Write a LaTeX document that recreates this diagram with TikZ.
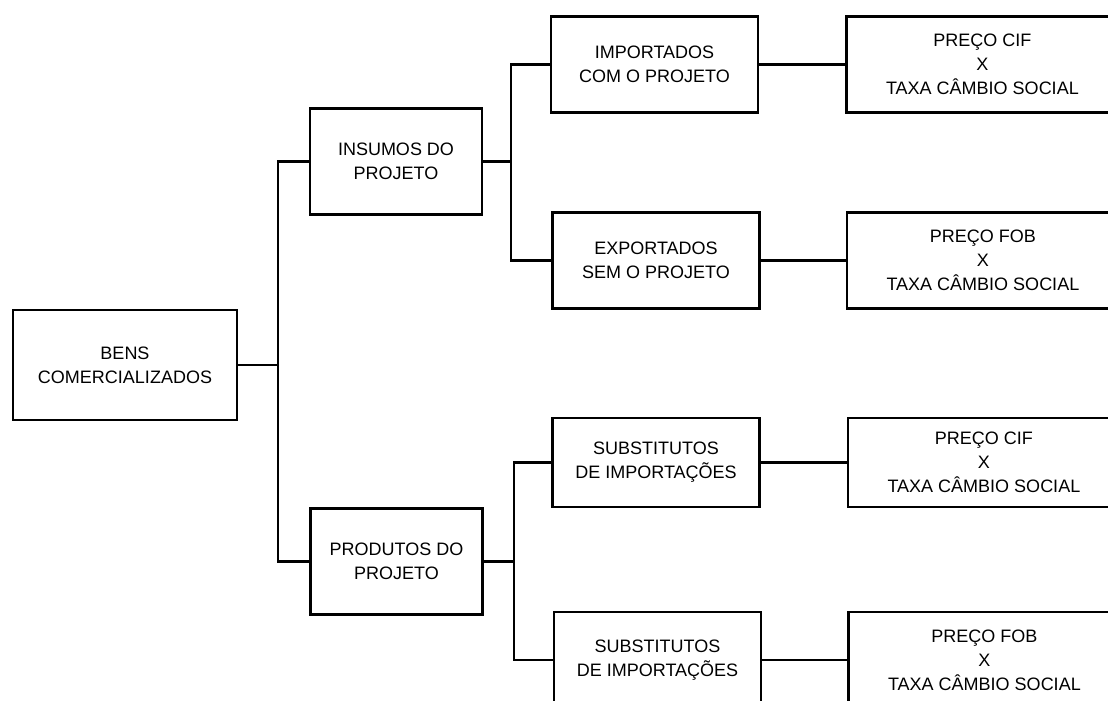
\documentclass[tikz,border=0pt]{standalone}
\usepackage{fontspec}
\setmainfont{Liberation Sans}
\usepackage{tikz}
\usetikzlibrary{positioning}
\tikzstyle{caixa} = [rectangle,fill=white,draw=black,line width=1.2pt,
align=center, inner sep=2pt, font=\fontsize{9}{12}\selectfont]
\tikzstyle{bem} = [caixa, minimum width=112pt, minimum height=55pt]
\tikzstyle{grupo} = [caixa, minimum width=86pt, minimum height=53pt]
\tikzstyle{tipo} = [caixa, minimum width=103.5pt, minimum height=48pt]
\tikzstyle{preco} = [caixa, minimum width=136pt, minimum height=48pt]
\tikzstyle{liga} = [line width=1.2pt]
\newcommand{\ramo}[3][14pt]{ %
  % Join node #2 to all nodes #3 through one vertical bar.
  \foreach \y in {#3} { %
    \draw[liga] (#2.east) -- ++(#1,0) |- (\y.west) ;%
  } ;
}
\newcommand{\fio}[2]{ %
  \path (#1) edge [liga] (#2) ;%
}

\begin{document}
\begin{tikzpicture}[x=0.5pt,y=-0.5pt]
				\useasboundingbox (0,0) rectangle (1108,701);
				\node[bem] (bens) at (125,365) {BENS\\COMERCIALIZADOS} ; %

				\node[grupo] (ins) at (396,161.5) {INSUMOS DO\\PROJETO} ; %
				\node[grupo] (prod) at (396.5,561.5) {PRODUTOS DO\\PROJETO} ; %

				\node[tipo] (imp) at (654.5,64.5) {IMPORTADOS\\COM O PROJETO} ; %
				\node[tipo] (exp) at (656,260.5) {EXPORTADOS\\SEM O PROJETO} ; %
				\node[tipo, minimum height=44.5pt] (sub1) at (656,462.5) {SUBSTITUTOS\\DE IMPORTAÇÕES} ; %
				\node[tipo] (sub2) at (657.5,660) {SUBSTITUTOS\\DE IMPORTAÇÕES} ; %

				\node[preco, right=43pt of imp] (cif1) {PREÇO CIF\\X\\TAXA CÂMBIO SOCIAL} ; %
				\node[preco, right=42.5pt of exp] (fob1) {PREÇO FOB\\X\\TAXA CÂMBIO SOCIAL} ; %
				\node[preco, right=43pt of sub1, minimum height=44.5pt] (cif2) {PREÇO CIF\\X\\TAXA CÂMBIO SOCIAL} ; %
				\node[preco, right=42.5pt of sub2] (fob2) {PREÇO FOB\\X\\TAXA CÂMBIO SOCIAL} ; %

				\ramo[20pt] {bens} {ins,prod};
				\ramo[14pt] {ins} {imp,exp};
				\ramo[15pt] {prod} {sub1,sub2};

				\fio {imp} {cif1};
				\fio {exp} {fob1};
				\fio {sub1} {cif2};
				\fio {sub2} {fob2};
				\end{tikzpicture}
\end{document}
